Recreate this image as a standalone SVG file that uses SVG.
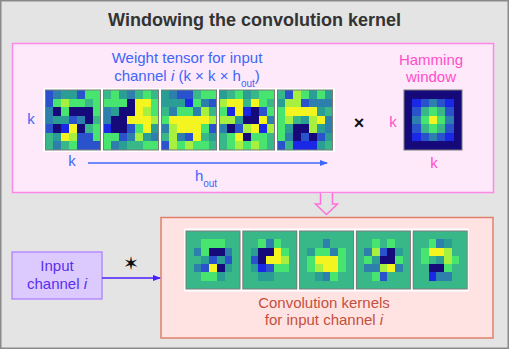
<svg xmlns="http://www.w3.org/2000/svg" xmlns:xlink="http://www.w3.org/1999/xlink" width="509" height="349" viewBox="0 0 509 349">
<style>
text{font-family:"Liberation Sans",Arial,sans-serif}
.c0{fill:#16097a}.c1{fill:#1a28e6}.c2{fill:#2a52cc}.c3{fill:#2e80ac}.c4{fill:#2a9e94}.c5{fill:#38b888}.c6{fill:#48e470}.c7{fill:#a8f040}.c8{fill:#f4f420}
.grid{shape-rendering:crispEdges}
.frame{fill:none;stroke:#7a7a7a;stroke-width:1}
.blue{fill:#3e66f8;font-size:15px}
.pink{fill:#ff4fc8;font-size:15px}
.salmon{fill:#c4503c;font-size:15px}
.purple{fill:#5a2ef0;font-size:15px}
</style>
<defs>
<rect id="p0" width="1" height="1" class="c0"/>
<rect id="p1" width="1" height="1" class="c1"/>
<rect id="p2" width="1" height="1" class="c2"/>
<rect id="p3" width="1" height="1" class="c3"/>
<rect id="p4" width="1" height="1" class="c4"/>
<rect id="p5" width="1" height="1" class="c5"/>
<rect id="p6" width="1" height="1" class="c6"/>
<rect id="p7" width="1" height="1" class="c7"/>
<rect id="p8" width="1" height="1" class="c8"/>
<marker id="ahBlue" markerWidth="8" markerHeight="8" refX="7" refY="4" orient="auto" markerUnits="userSpaceOnUse"><path d="M0,1 L8,4 L0,7 z" fill="#3e66f8"/></marker>
<marker id="ahViolet" markerWidth="8" markerHeight="8" refX="7" refY="4" orient="auto" markerUnits="userSpaceOnUse"><path d="M0,1 L8,4 L0,7 z" fill="#4a1cff"/></marker>
</defs>

<rect x="0.75" y="0.75" width="507.5" height="347.5" fill="#e4e4e4" stroke="#8a8a8a" stroke-width="1.5"/>
<text x="254.5" y="26" text-anchor="middle" font-size="18" font-weight="bold" fill="#333333">Windowing the convolution kernel</text>

<g id="weight-box">
<rect x="12.5" y="43.5" width="481" height="149" fill="#fde9fa" stroke="#ff88e6" stroke-width="1.5"/>
</g>

<g id="weight-tensor">
<text class="blue" x="187" y="63" text-anchor="middle">Weight tensor for input</text>
<text class="blue" x="187" y="81" text-anchor="middle">channel <tspan font-style="italic">i</tspan> (k × k × h<tspan font-size="10" baseline-shift="sub">out</tspan>)</text>
<text class="blue" x="31" y="124" text-anchor="middle">k</text>
<text class="blue" x="72" y="166" text-anchor="middle">k</text>
<text class="blue" x="206" y="181" text-anchor="middle">h<tspan font-size="10" baseline-shift="sub">out</tspan></text>
<rect x="43" y="88" width="292" height="64" fill="#ffffff"/>
<g class="grid" transform="translate(45.5,90) scale(7.857,8.571)">
<use href="#p2"/><use href="#p3" x="1"/><use href="#p4" x="2"/><use href="#p4" x="3"/><use href="#p2" x="4"/><use href="#p6" x="5"/><use href="#p6" x="6"/>
<use href="#p2" y="1"/><use href="#p6" x="1" y="1"/><use href="#p7" x="2" y="1"/><use href="#p6" x="3" y="1"/><use href="#p6" x="4" y="1"/><use href="#p5" x="5" y="1"/><use href="#p6" x="6" y="1"/>
<use href="#p3" y="2"/><use href="#p0" x="1" y="2"/><use href="#p6" x="2" y="2"/><use href="#p0" x="3" y="2"/><use href="#p0" x="4" y="2"/><use href="#p0" x="5" y="2"/><use href="#p6" x="6" y="2"/>
<use href="#p3" y="3"/><use href="#p4" x="1" y="3"/><use href="#p4" x="2" y="3"/><use href="#p2" x="3" y="3"/><use href="#p3" x="4" y="3"/><use href="#p0" x="5" y="3"/><use href="#p5" x="6" y="3"/>
<use href="#p2" y="4"/><use href="#p0" x="1" y="4"/><use href="#p1" x="2" y="4"/><use href="#p8" x="3" y="4"/><use href="#p0" x="4" y="4"/><use href="#p5" x="5" y="4"/><use href="#p6" x="6" y="4"/>
<use href="#p5" y="5"/><use href="#p4" x="1" y="5"/><use href="#p8" x="2" y="5"/><use href="#p7" x="3" y="5"/><use href="#p2" x="4" y="5"/><use href="#p2" x="5" y="5"/><use href="#p6" x="6" y="5"/>
<use href="#p5" y="6"/><use href="#p3" x="1" y="6"/><use href="#p5" x="2" y="6"/><use href="#p6" x="3" y="6"/><use href="#p2" x="4" y="6"/><use href="#p2" x="5" y="6"/><use href="#p2" x="6" y="6"/>
</g>
<g class="grid" transform="translate(103.5,90) scale(7.857,8.571)">
<use href="#p5"/><use href="#p6" x="1"/><use href="#p4" x="2"/><use href="#p3" x="3"/><use href="#p5" x="4"/><use href="#p6" x="5"/><use href="#p5" x="6"/>
<use href="#p6" y="1"/><use href="#p6" x="1" y="1"/><use href="#p6" x="2" y="1"/><use href="#p0" x="3" y="1"/><use href="#p8" x="4" y="1"/><use href="#p8" x="5" y="1"/><use href="#p6" x="6" y="1"/>
<use href="#p3" y="2"/><use href="#p4" x="1" y="2"/><use href="#p0" x="2" y="2"/><use href="#p0" x="3" y="2"/><use href="#p8" x="4" y="2"/><use href="#p7" x="5" y="2"/><use href="#p6" x="6" y="2"/>
<use href="#p3" y="3"/><use href="#p0" x="1" y="3"/><use href="#p0" x="2" y="3"/><use href="#p8" x="3" y="3"/><use href="#p8" x="4" y="3"/><use href="#p8" x="5" y="3"/><use href="#p7" x="6" y="3"/>
<use href="#p1" y="4"/><use href="#p0" x="1" y="4"/><use href="#p0" x="2" y="4"/><use href="#p2" x="3" y="4"/><use href="#p6" x="4" y="4"/><use href="#p8" x="5" y="4"/><use href="#p4" x="6" y="4"/>
<use href="#p6" y="5"/><use href="#p6" x="1" y="5"/><use href="#p2" x="2" y="5"/><use href="#p3" x="3" y="5"/><use href="#p7" x="4" y="5"/><use href="#p4" x="5" y="5"/><use href="#p3" x="6" y="5"/>
<use href="#p6" y="6"/><use href="#p3" x="1" y="6"/><use href="#p4" x="2" y="6"/><use href="#p5" x="3" y="6"/><use href="#p5" x="4" y="6"/><use href="#p6" x="5" y="6"/><use href="#p6" x="6" y="6"/>
</g>
<g class="grid" transform="translate(161.5,90) scale(7.857,8.571)">
<use href="#p4"/><use href="#p3" x="1"/><use href="#p2" x="2"/><use href="#p2" x="3"/><use href="#p5" x="4"/><use href="#p6" x="5"/><use href="#p6" x="6"/>
<use href="#p4" y="1"/><use href="#p4" x="1" y="1"/><use href="#p4" x="2" y="1"/><use href="#p1" x="3" y="1"/><use href="#p6" x="4" y="1"/><use href="#p3" x="5" y="1"/><use href="#p2" x="6" y="1"/>
<use href="#p5" y="2"/><use href="#p3" x="1" y="2"/><use href="#p6" x="2" y="2"/><use href="#p6" x="3" y="2"/><use href="#p3" x="4" y="2"/><use href="#p7" x="5" y="2"/><use href="#p5" x="6" y="2"/>
<use href="#p6" y="3"/><use href="#p8" x="1" y="3"/><use href="#p8" x="2" y="3"/><use href="#p8" x="3" y="3"/><use href="#p8" x="4" y="3"/><use href="#p8" x="5" y="3"/><use href="#p7" x="6" y="3"/>
<use href="#p3" y="4"/><use href="#p7" x="1" y="4"/><use href="#p8" x="2" y="4"/><use href="#p8" x="3" y="4"/><use href="#p8" x="4" y="4"/><use href="#p6" x="5" y="4"/><use href="#p2" x="6" y="4"/>
<use href="#p5" y="5"/><use href="#p7" x="1" y="5"/><use href="#p3" x="2" y="5"/><use href="#p2" x="3" y="5"/><use href="#p8" x="4" y="5"/><use href="#p5" x="5" y="5"/><use href="#p4" x="6" y="5"/>
<use href="#p2" y="6"/><use href="#p7" x="1" y="6"/><use href="#p6" x="2" y="6"/><use href="#p7" x="3" y="6"/><use href="#p6" x="4" y="6"/><use href="#p6" x="5" y="6"/><use href="#p5" x="6" y="6"/>
</g>
<g class="grid" transform="translate(219.5,90) scale(7.857,8.571)">
<use href="#p4"/><use href="#p5" x="1"/><use href="#p6" x="2"/><use href="#p4" x="3"/><use href="#p5" x="4"/><use href="#p6" x="5"/><use href="#p6" x="6"/>
<use href="#p7" y="1"/><use href="#p8" x="1" y="1"/><use href="#p8" x="2" y="1"/><use href="#p5" x="3" y="1"/><use href="#p8" x="4" y="1"/><use href="#p6" x="5" y="1"/><use href="#p5" x="6" y="1"/>
<use href="#p6" y="2"/><use href="#p1" x="1" y="2"/><use href="#p8" x="2" y="2"/><use href="#p1" x="3" y="2"/><use href="#p0" x="4" y="2"/><use href="#p2" x="5" y="2"/><use href="#p6" x="6" y="2"/>
<use href="#p7" y="3"/><use href="#p7" x="1" y="3"/><use href="#p4" x="2" y="3"/><use href="#p0" x="3" y="3"/><use href="#p0" x="4" y="3"/><use href="#p8" x="5" y="3"/><use href="#p3" x="6" y="3"/>
<use href="#p3" y="4"/><use href="#p0" x="1" y="4"/><use href="#p2" x="2" y="4"/><use href="#p7" x="3" y="4"/><use href="#p8" x="4" y="4"/><use href="#p1" x="5" y="4"/><use href="#p7" x="6" y="4"/>
<use href="#p5" y="5"/><use href="#p6" x="1" y="5"/><use href="#p8" x="2" y="5"/><use href="#p0" x="3" y="5"/><use href="#p6" x="4" y="5"/><use href="#p6" x="5" y="5"/><use href="#p5" x="6" y="5"/>
<use href="#p5" y="6"/><use href="#p6" x="1" y="6"/><use href="#p7" x="2" y="6"/><use href="#p6" x="3" y="6"/><use href="#p7" x="4" y="6"/><use href="#p6" x="5" y="6"/><use href="#p5" x="6" y="6"/>
</g>
<g class="grid" transform="translate(277.5,90) scale(7.857,8.571)">
<use href="#p5"/><use href="#p2" x="1"/><use href="#p7" x="2"/><use href="#p6" x="3"/><use href="#p4" x="4"/><use href="#p6" x="5"/><use href="#p4" x="6"/>
<use href="#p4" y="1"/><use href="#p7" x="1" y="1"/><use href="#p7" x="2" y="1"/><use href="#p2" x="3" y="1"/><use href="#p3" x="4" y="1"/><use href="#p3" x="5" y="1"/><use href="#p3" x="6" y="1"/>
<use href="#p6" y="2"/><use href="#p8" x="1" y="2"/><use href="#p8" x="2" y="2"/><use href="#p8" x="3" y="2"/><use href="#p8" x="4" y="2"/><use href="#p4" x="5" y="2"/><use href="#p5" x="6" y="2"/>
<use href="#p6" y="3"/><use href="#p7" x="1" y="3"/><use href="#p5" x="2" y="3"/><use href="#p4" x="3" y="3"/><use href="#p7" x="4" y="3"/><use href="#p8" x="5" y="3"/><use href="#p3" x="6" y="3"/>
<use href="#p6" y="4"/><use href="#p4" x="1" y="4"/><use href="#p0" x="2" y="4"/><use href="#p0" x="3" y="4"/><use href="#p7" x="4" y="4"/><use href="#p4" x="5" y="4"/><use href="#p3" x="6" y="4"/>
<use href="#p6" y="5"/><use href="#p3" x="1" y="5"/><use href="#p0" x="2" y="5"/><use href="#p2" x="3" y="5"/><use href="#p0" x="4" y="5"/><use href="#p2" x="5" y="5"/><use href="#p4" x="6" y="5"/>
<use href="#p2" y="6"/><use href="#p5" x="1" y="6"/><use href="#p1" x="2" y="6"/><use href="#p1" x="3" y="6"/><use href="#p1" x="4" y="6"/><use href="#p4" x="5" y="6"/><use href="#p5" x="6" y="6"/>
</g>
<rect class="frame" x="45.5" y="90" width="55" height="60"/>
<rect class="frame" x="103.5" y="90" width="55" height="60"/>
<rect class="frame" x="161.5" y="90" width="55" height="60"/>
<rect class="frame" x="219.5" y="90" width="55" height="60"/>
<rect class="frame" x="277.5" y="90" width="55" height="60"/>
</g>

<g id="multiply">
<text x="359" y="129" text-anchor="middle" font-size="18" font-weight="bold" fill="#111111">×</text>
</g>

<g id="hamming">
<text class="pink" x="431" y="65" text-anchor="middle">Hamming</text>
<text class="pink" x="431" y="82" text-anchor="middle">window</text>
<text class="pink" x="393" y="127" text-anchor="middle">k</text>
<text class="pink" x="434" y="168" text-anchor="middle">k</text>
<g class="grid" transform="translate(404,90) scale(8.286,8.571)">
<rect width="7" height="7" class="c0"/>
<use href="#p1" x="1" y="1"/><use href="#p2" x="2" y="1"/><use href="#p3" x="3" y="1"/><use href="#p2" x="4" y="1"/><use href="#p1" x="5" y="1"/>
<use href="#p2" x="1" y="2"/><use href="#p5" x="2" y="2"/><use href="#p6" x="3" y="2"/><use href="#p5" x="4" y="2"/><use href="#p2" x="5" y="2"/>
<use href="#p3" x="1" y="3"/><use href="#p6" x="2" y="3"/><use href="#p8" x="3" y="3"/><use href="#p6" x="4" y="3"/><use href="#p3" x="5" y="3"/>
<use href="#p2" x="1" y="4"/><use href="#p5" x="2" y="4"/><use href="#p6" x="3" y="4"/><use href="#p5" x="4" y="4"/><use href="#p2" x="5" y="4"/>
<use href="#p1" x="1" y="5"/><use href="#p2" x="2" y="5"/><use href="#p3" x="3" y="5"/><use href="#p2" x="4" y="5"/><use href="#p1" x="5" y="5"/>
</g>
<rect class="frame" x="404" y="90" width="58" height="60"/>
</g>

<g id="kernels">
<rect x="161" y="217.5" width="332" height="120.5" fill="#ffe3e3" stroke="#e0806c" stroke-width="1.5"/>
<rect x="184" y="228.5" width="284.5" height="63" fill="#ffffff"/>
<g class="grid" transform="translate(186,231) scale(7.714,8.286)">
<rect width="7" height="7" class="c5"/>
<use href="#p6" x="2" y="1"/><use href="#p6" x="3" y="1"/><use href="#p6" x="4" y="1"/>
<use href="#p3" x="1" y="2"/><use href="#p6" x="2" y="2"/><use href="#p0" x="3" y="2"/><use href="#p0" x="4" y="2"/><use href="#p3" x="5" y="2"/>
<use href="#p4" x="2" y="3"/><use href="#p2" x="3" y="3"/><use href="#p4" x="4" y="3"/><use href="#p2" x="5" y="3"/>
<use href="#p3" x="1" y="4"/><use href="#p2" x="2" y="4"/><use href="#p8" x="3" y="4"/><use href="#p0" x="4" y="4"/><use href="#p4" x="5" y="4"/>
<use href="#p6" x="2" y="5"/><use href="#p6" x="3" y="5"/><use href="#p4" x="4" y="5"/>
</g>
<g class="grid" transform="translate(242.8,231) scale(7.714,8.286)">
<rect width="7" height="7" class="c5"/>
<use href="#p6" x="2" y="1"/><use href="#p3" x="3" y="1"/><use href="#p6" x="4" y="1"/>
<use href="#p4" x="1" y="2"/><use href="#p0" x="2" y="2"/><use href="#p0" x="3" y="2"/><use href="#p8" x="4" y="2"/><use href="#p6" x="5" y="2"/>
<use href="#p2" x="1" y="3"/><use href="#p0" x="2" y="3"/><use href="#p8" x="3" y="3"/><use href="#p8" x="4" y="3"/><use href="#p7" x="5" y="3"/>
<use href="#p4" x="1" y="4"/><use href="#p1" x="2" y="4"/><use href="#p2" x="3" y="4"/><use href="#p6" x="4" y="4"/><use href="#p6" x="5" y="4"/>
<use href="#p4" x="2" y="5"/><use href="#p4" x="3" y="5"/>
</g>
<g class="grid" transform="translate(299.6,231) scale(7.714,8.286)">
<rect width="7" height="7" class="c5"/>
<use href="#p3" x="3" y="1"/>
<use href="#p4" x="1" y="2"/><use href="#p6" x="2" y="2"/><use href="#p6" x="3" y="2"/><use href="#p3" x="4" y="2"/><use href="#p6" x="5" y="2"/>
<use href="#p6" x="1" y="3"/><use href="#p8" x="2" y="3"/><use href="#p8" x="3" y="3"/><use href="#p8" x="4" y="3"/><use href="#p6" x="5" y="3"/>
<use href="#p6" x="1" y="4"/><use href="#p7" x="2" y="4"/><use href="#p8" x="3" y="4"/><use href="#p8" x="4" y="4"/><use href="#p6" x="5" y="4"/>
<use href="#p4" x="2" y="5"/><use href="#p3" x="3" y="5"/><use href="#p6" x="4" y="5"/>
</g>
<g class="grid" transform="translate(356.4,231) scale(7.714,8.286)">
<rect width="7" height="7" class="c5"/>
<use href="#p6" x="2" y="1"/><use href="#p6" x="4" y="1"/>
<use href="#p3" x="1" y="2"/><use href="#p7" x="2" y="2"/><use href="#p2" x="3" y="2"/><use href="#p0" x="4" y="2"/><use href="#p4" x="5" y="2"/>
<use href="#p6" x="1" y="3"/><use href="#p4" x="2" y="3"/><use href="#p0" x="3" y="3"/><use href="#p0" x="4" y="3"/><use href="#p6" x="5" y="3"/>
<use href="#p3" x="1" y="4"/><use href="#p3" x="2" y="4"/><use href="#p7" x="3" y="4"/><use href="#p8" x="4" y="4"/><use href="#p3" x="5" y="4"/>
<use href="#p6" x="2" y="5"/><use href="#p2" x="3" y="5"/>
</g>
<g class="grid" transform="translate(413.2,231) scale(7.714,8.286)">
<rect width="7" height="7" class="c5"/>
<use href="#p6" x="2" y="1"/><use href="#p3" x="3" y="1"/><use href="#p4" x="4" y="1"/>
<use href="#p6" x="1" y="2"/><use href="#p8" x="2" y="2"/><use href="#p8" x="3" y="2"/><use href="#p7" x="4" y="2"/>
<use href="#p6" x="1" y="3"/><use href="#p4" x="3" y="3"/><use href="#p7" x="4" y="3"/><use href="#p6" x="5" y="3"/>
<use href="#p0" x="2" y="4"/><use href="#p0" x="3" y="4"/><use href="#p6" x="4" y="4"/>
<use href="#p1" x="2" y="5"/><use href="#p3" x="3" y="5"/><use href="#p3" x="4" y="5"/>
</g>
<rect class="frame" x="186" y="231" width="54" height="58"/>
<rect class="frame" x="242.8" y="231" width="54" height="58"/>
<rect class="frame" x="299.6" y="231" width="54" height="58"/>
<rect class="frame" x="356.4" y="231" width="54" height="58"/>
<rect class="frame" x="413.2" y="231" width="54" height="58"/>
<text class="salmon" x="324" y="308" text-anchor="middle">Convolution kernels</text>
<text class="salmon" x="324" y="325" text-anchor="middle">for input channel <tspan font-style="italic">i</tspan></text>
</g>

<g id="input-channel">
<rect x="12" y="252" width="90" height="47" fill="#dccaff" stroke="#b48cff" stroke-width="1.5"/>
<text class="purple" x="57" y="271" text-anchor="middle">Input</text>
<text class="purple" x="57" y="289" text-anchor="middle">channel <tspan font-style="italic">i</tspan></text>
</g>

<g id="connectors">
<line x1="88" y1="163" x2="327" y2="163" stroke="#3e66f8" stroke-width="1.5" marker-end="url(#ahBlue)"/>
<path d="M320.5,193 V204 H315.5 L326.5,214.5 L337.5,204 H332.5 V193" fill="#e4e4e4" stroke="#ff70d8" stroke-width="1.5"/>
<line x1="102" y1="278" x2="160" y2="278" stroke="#4a1cff" stroke-width="1.5" marker-end="url(#ahViolet)"/>
<text x="131" y="270" text-anchor="middle" font-size="19" font-weight="bold" fill="#111111" style="font-family:'DejaVu Sans',sans-serif">✶</text>
</g>
</svg>
